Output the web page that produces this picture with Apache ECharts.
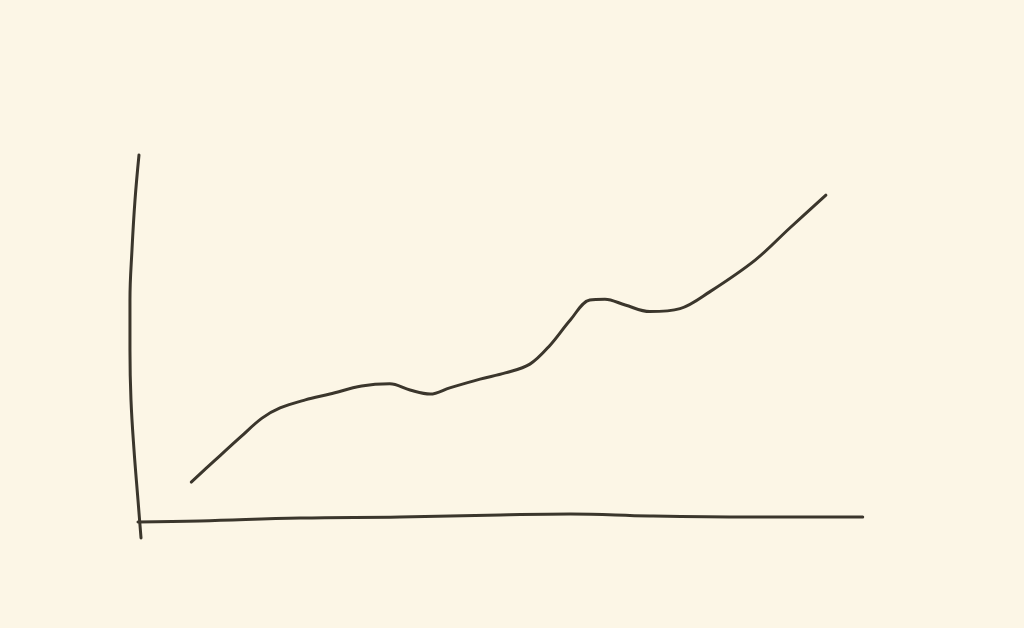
<!DOCTYPE html>
<html>
<head>
<meta charset="utf-8">
<script src="https://cdn.jsdelivr.net/npm/echarts@6/dist/echarts.min.js"></script>
<style>
html,body{margin:0;padding:0;background:#fcf6e6;}
#c{width:1024px;height:628px;}
</style>
</head>
<body>
<div id="c"></div>
<script>
// Sketch line (x, y) in chart units: x 0..100, y 0..100
const lineX = [7.1, 10.4, 13.9, 16.9, 19.4, 22.9, 26.3, 30.7, 34.6, 37.4, 40.2, 42.9, 47.1, 50.6, 54.0, 56.8, 59.6, 62.3, 64.4, 67.2, 70.6, 74.8, 78.9, 85.2, 90.0, 95.0];
const lineY = [10.4, 16.4, 22.7, 27.9, 30.7, 32.9, 34.5, 36.7, 37.3, 35.6, 34.5, 36.2, 38.6, 40.3, 42.7, 47.9, 54.8, 60.3, 60.5, 58.9, 57.1, 57.9, 62.5, 71.2, 80.0, 89.0];
// Hand-drawn vertical axis
const yAxisLineX = [-0.14, -0.69, -1.11, -1.39, -1.39, -1.25, -0.83, -0.28, 0.14];
const yAxisLineY = [100, 87.7, 74.0, 60.3, 46.6, 32.9, 19.2, 5.5, -4.9];
// Hand-drawn horizontal axis
const xAxisLineX = [-0.28, 8.3, 22.2, 36.0, 49.9, 59.6, 70.6, 84.5, 100.1];
const xAxisLineY = [-0.55, -0.27, 0.55, 0.82, 1.37, 1.64, 1.1, 0.82, 0.82];

const zip = (a, b) => a.map((v, i) => [v, b[i]]);
const ink = '#3b362c';
const chart = echarts.init(document.getElementById('c'));
const common = {
  type: 'line', smooth: 0.4, symbol: 'none', clip: false, silent: true,
  lineStyle: { color: ink, width: 3, cap: 'round', join: 'round' }
};
chart.setOption({
  backgroundColor: '#fcf6e6',
  animation: false,
  grid: { left: 125.56, right: 154.78, top: 151.35, bottom: 86.1 },
  xAxis: { type: 'value', min: -2, max: 101, show: false },
  yAxis: { type: 'value', min: -6, max: 101, show: false },
  series: [
    Object.assign({}, common, { data: zip(yAxisLineX, yAxisLineY) }),
    Object.assign({}, common, { data: zip(xAxisLineX, xAxisLineY) }),
    Object.assign({}, common, { data: zip(lineX, lineY), smooth: 0.35 })
  ]
});
</script>
</body>
</html>
